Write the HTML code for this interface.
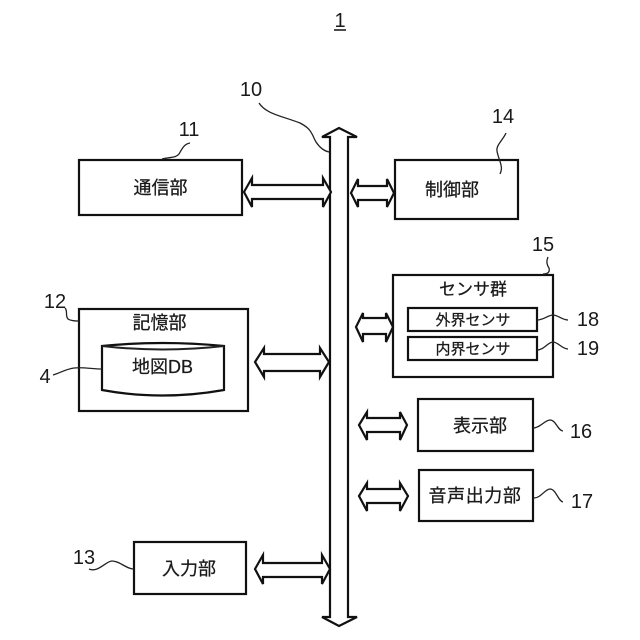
<!DOCTYPE html>
<html><head><meta charset="utf-8"><style>
html,body{margin:0;padding:0;background:#fff}
svg{display:block}
text{font-family:"Liberation Sans","Noto Sans CJK JP",sans-serif;fill:#1a1a1a}
.j{font-size:18px;text-anchor:middle;stroke:#1a1a1a;stroke-width:.25}
.n{font-size:20px;text-anchor:middle}
rect,.a{fill:#fff;stroke:#111;stroke-width:2.2}
.l{fill:none;stroke:#222;stroke-width:1.3}
</style></head><body>
<svg width="640" height="640" viewBox="0 0 640 640" xmlns="http://www.w3.org/2000/svg">
<text class="n" x="340" y="27">1</text>
<line x1="334" y1="30" x2="346" y2="30" stroke="#111" stroke-width="1.5"/>

<!-- bus -->
<path class="a" d="M339 128L357 137H348V617H357L339 626L322 617H330V137H322Z"/>

<!-- boxes -->
<rect x="79" y="160" width="163" height="55"/>
<rect x="395" y="160" width="123" height="59"/>
<rect x="79" y="309" width="169" height="102"/>
<rect x="393" y="275" width="160" height="102"/>
<rect x="408" y="308" width="129" height="23"/>
<rect x="408" y="337" width="129" height="23"/>
<rect x="418" y="399" width="115" height="52"/>
<rect x="419" y="470" width="114" height="51"/>
<rect x="134" y="542" width="112" height="52"/>

<!-- cylinder -->
<path class="a" d="M102 346Q162 340 224 346V390Q162 401 102 390Z"/>
<path class="l" style="stroke-width:2" d="M102 346Q162 353 224 346"/>

<!-- double arrows -->
<path class="a" d="M244 192L252 178V185H323V178L331 192L323 207V199H252V207Z"/>
<path class="a" d="M351 193L358 179V186H387V179L394 193L387 207V200H358V207Z"/>
<path class="a" d="M255 362L264 348V354H320V348L329 362L320 377V371H264V377Z"/>
<path class="a" d="M356 327L363 313V318H386V313L393 327L386 342V334H363V342Z"/>
<path class="a" d="M359 425L367 412V418H400V412L407 425L400 440V432H367V440Z"/>
<path class="a" d="M359 496L367 483V489H400V483L408 496L400 511V503H367V511Z"/>
<path class="a" d="M255 569L263 555V563H322V555L330 569L322 584V577H263V584Z"/>

<!-- labels -->
<text class="j" x="160.5" y="194">通信部</text>
<text class="j" x="452" y="196">制御部</text>
<text class="j" x="159.5" y="329">記憶部</text>
<text class="j" x="162.5" y="373">地図DB</text>
<text class="j" x="473" y="295" style="font-size:17px">センサ群</text>
<text class="j" x="473" y="325" style="font-size:15px">外界センサ</text>
<text class="j" x="473" y="354" style="font-size:15px">内界センサ</text>
<text class="j" x="480" y="432">表示部</text>
<text class="j" x="475" y="502" style="letter-spacing:.6px">音声出力部</text>
<text class="j" x="189" y="575">入力部</text>

<!-- numbers -->
<text class="n" x="251" y="96">10</text>
<text class="n" x="189" y="136">11</text>
<text class="n" x="503" y="123">14</text>
<text class="n" x="55" y="308">12</text>
<text class="n" x="45" y="383">4</text>
<text class="n" x="543" y="251">15</text>
<text class="n" x="588" y="326">18</text>
<text class="n" x="588" y="355">19</text>
<text class="n" x="581" y="438">16</text>
<text class="n" x="582" y="508">17</text>
<text class="n" x="84" y="564">13</text>

<!-- leader lines -->
<path class="l" d="M259 103C266 114 282 116 300 123C312 129 312 135 316 142C320 148 324 151 329 152"/>
<path class="l" d="M162 159C170 157 176 158 179 154C182 149 184 144 190 143"/>
<path class="l" d="M506 133C503 140 496 145 497 151C498 157 500 160 501 165C502 169 501 172 500 174"/>
<path class="l" d="M65 308C68 311 65 316 68 319C71 321 75 321 79 321"/>
<path class="l" d="M53 375C60 373 66 369 74 368C84 367 92 369 102 369"/>
<path class="l" d="M543 274C548 274 550 272 549 268C547 265 546 262 548 257"/>
<path class="l" d="M537 320C544 320 548 315 553 315C558 315 562 320 568 320"/>
<path class="l" d="M537 350C544 350 548 342 553 342C558 342 562 349 568 349"/>
<path class="l" d="M533 428C540 428 545 420 550 420C556 420 558 431 563 431"/>
<path class="l" d="M534 498C541 498 545 489 550 489C556 489 558 501 563 502"/>
<path class="l" d="M89 569C98 573 106 561 112 561C120 561 126 569 134 569"/>
</svg>
</body></html>
